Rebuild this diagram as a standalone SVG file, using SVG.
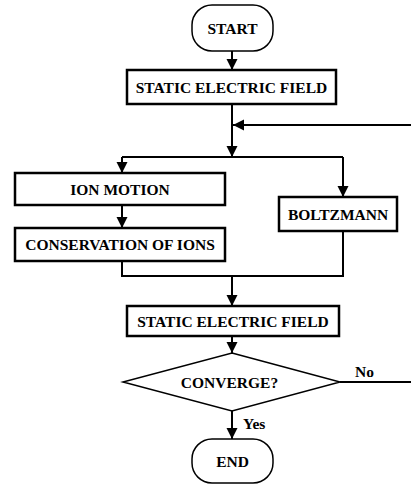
<svg xmlns="http://www.w3.org/2000/svg" width="411" height="487" viewBox="0 0 411 487">
<defs>
<style>
.box{fill:#fff;stroke:#000;stroke-width:2.5}
.term{fill:#fff;stroke:#000;stroke-width:1.5}
.dia{fill:#fff;stroke:#000;stroke-width:1.5}
.t{font-family:"Liberation Serif","Times New Roman",serif;font-weight:bold;font-size:15.5px;fill:#000;text-anchor:middle}
.lbl{font-family:"Liberation Serif","Times New Roman",serif;font-weight:bold;font-size:15.5px;fill:#000}
.c{fill:none;stroke:#000;stroke-width:2}
</style>
<marker id="ah" markerUnits="userSpaceOnUse" markerWidth="12" markerHeight="12" viewBox="0 0 12 12" refX="11" refY="6" orient="auto">
<path d="M0,0.5 L11,6 L0,11.5 Z" fill="#000"/>
</marker>
</defs>
<g id="connectors">
<path class="c" d="M232,51 V70" marker-end="url(#ah)"/>
<path class="c" d="M232,104 V157" marker-end="url(#ah)"/>
<path class="c" d="M411,125 H233" marker-end="url(#ah)"/>
<path class="c" d="M122,157 H343"/>
<path class="c" d="M122,157 V173" marker-end="url(#ah)"/>
<path class="c" d="M343,157 V197" marker-end="url(#ah)"/>
<path class="c" d="M122,205 V228" marker-end="url(#ah)"/>
<path class="c" d="M122,261 V276 H343 V231"/>
<path class="c" d="M232,276 V306" marker-end="url(#ah)"/>
<path class="c" d="M232,336 V353" marker-end="url(#ah)"/>
<path class="c" d="M340,382 H411"/>
<path class="c" d="M232,411 V439" marker-end="url(#ah)"/>
<text class="lbl" x="355" y="377">No</text>
<text class="lbl" x="243" y="429">Yes</text>
</g>
<g id="start">
<rect class="term" x="192" y="5" width="81" height="46" rx="20" ry="20"/>
<text class="t" x="232.5" y="34">START</text>
</g>
<g id="field1">
<rect class="box" x="127" y="70" width="209" height="34"/>
<text class="t" x="231.5" y="92.5">STATIC ELECTRIC FIELD</text>
</g>
<g id="ion-motion">
<rect class="box" x="15" y="173" width="210" height="32"/>
<text class="t" x="120" y="194.5">ION MOTION</text>
</g>
<g id="conservation">
<rect class="box" x="15" y="228" width="210" height="33"/>
<text class="t" x="120" y="250">CONSERVATION OF IONS</text>
</g>
<g id="boltzmann">
<rect class="box" x="279" y="197" width="118" height="34"/>
<text class="t" x="338" y="219.5">BOLTZMANN</text>
</g>
<g id="field2">
<rect class="box" x="127" y="306" width="212" height="30"/>
<text class="t" x="233" y="326.5">STATIC ELECTRIC FIELD</text>
</g>
<g id="converge">
<polygon class="dia" points="232,353 340,382 232,411 123,382"/>
<text class="t" x="229.5" y="387.5">CONVERGE?</text>
</g>
<g id="end">
<rect class="term" x="192" y="439" width="81" height="44" rx="20" ry="20"/>
<text class="t" x="232.5" y="466.5">END</text>
</g>
</svg>
